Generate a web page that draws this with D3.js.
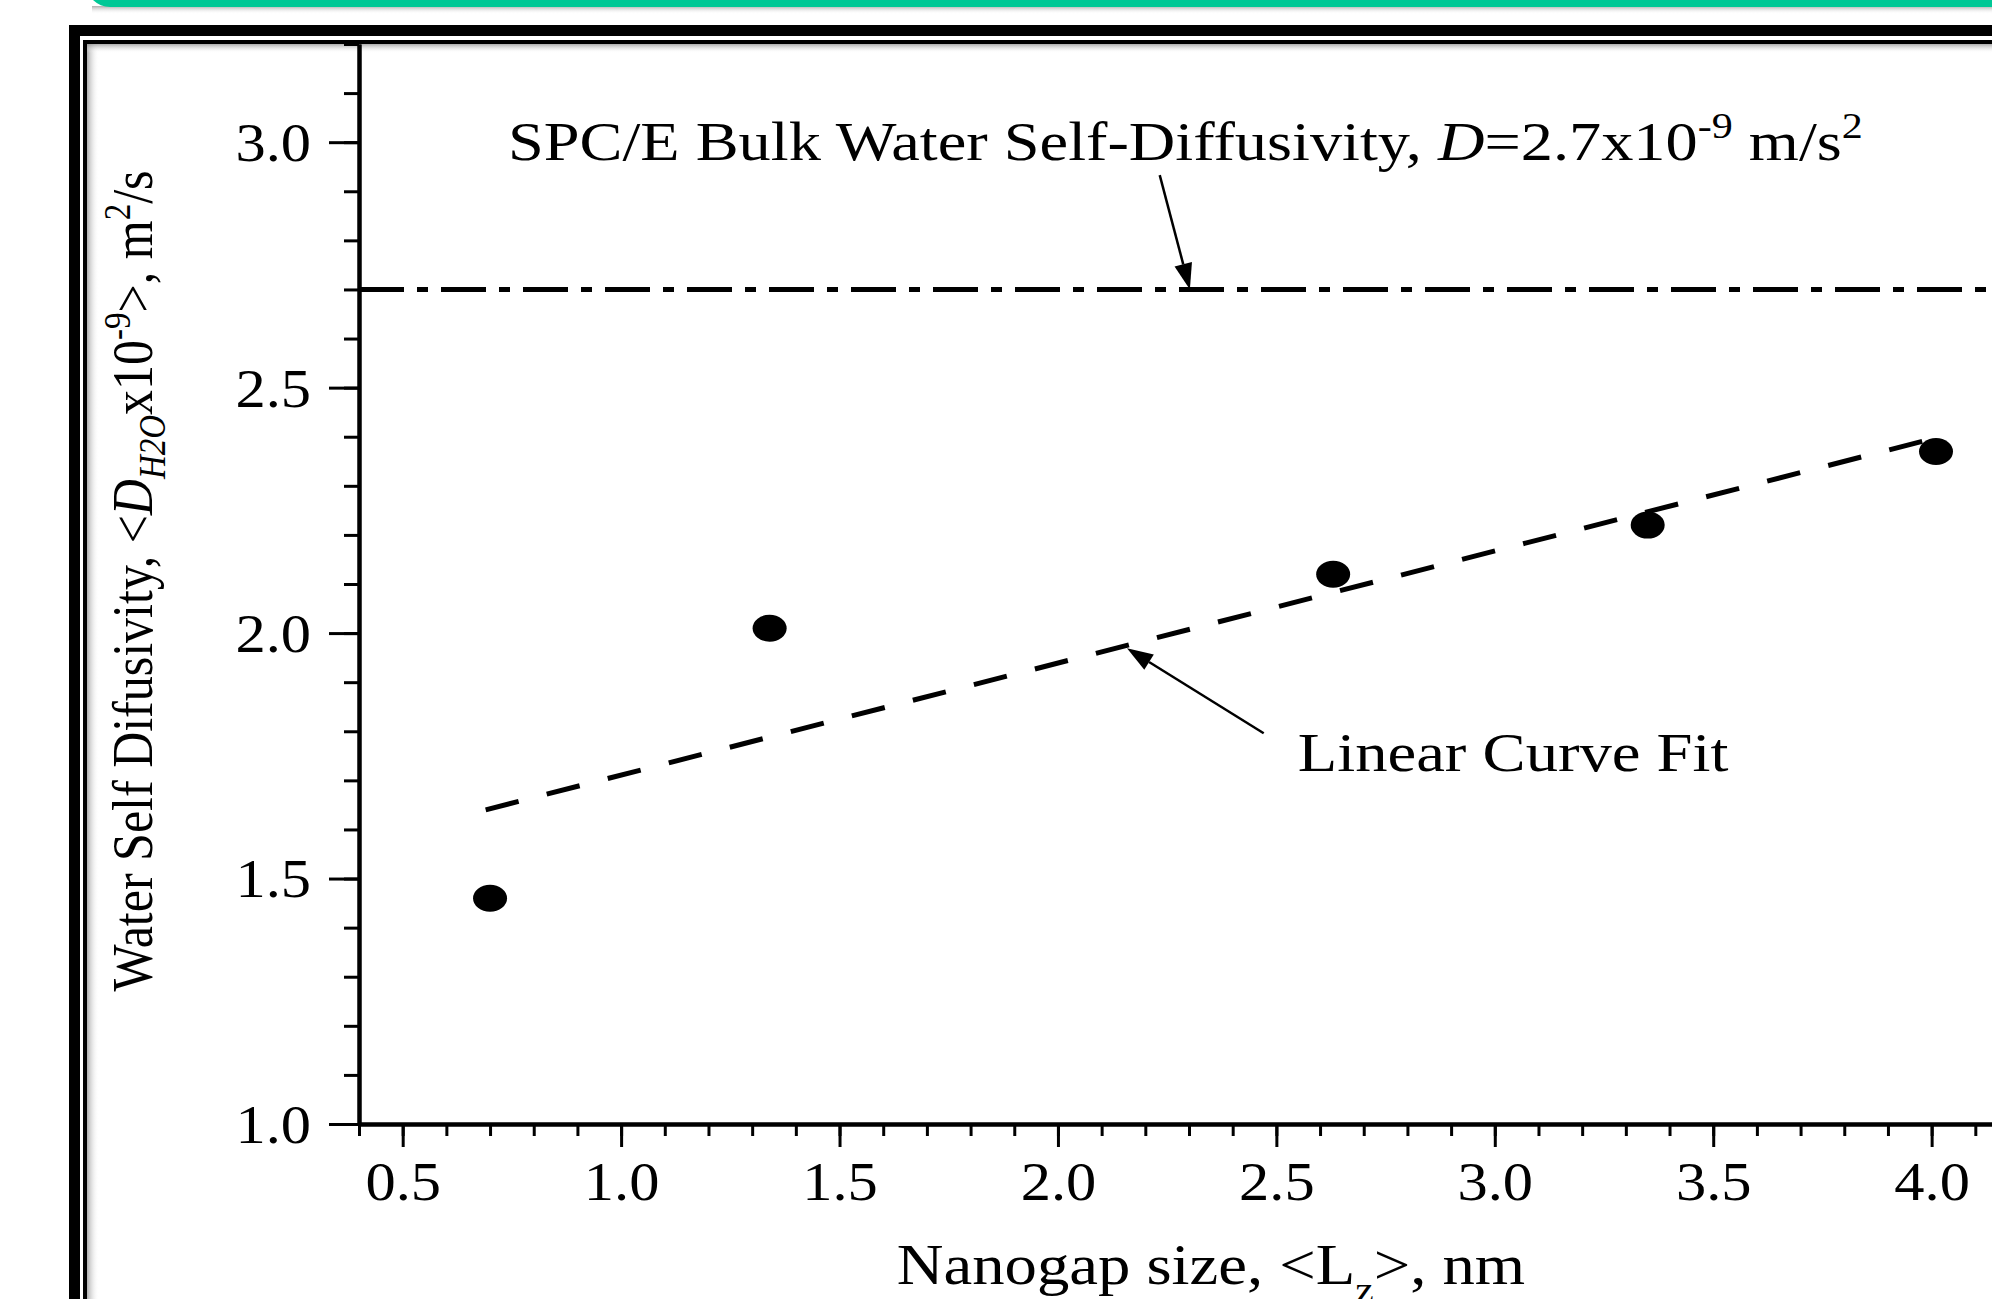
<!DOCTYPE html>
<meta charset="utf-8">
<script src="https://cdn.jsdelivr.net/npm/d3@7"></script>
<style>
  body { margin: 0; background: #fff; overflow: hidden; }
  text { font-family: "Liberation Serif", "Times New Roman", serif; fill: #000; }
</style>
<svg></svg>
<script>
    var W = 1992, H = 1299;
    var svg = d3.select('svg').attr('width', W).attr('height', H);

    // data
    var xTickValues = [0.5, 1.0, 1.5, 2.0, 2.5, 3.0, 3.5, 4.0];
    var yTickValues = [1.0, 1.5, 2.0, 2.5, 3.0];
    var gapSize = [0.70, 1.34, 2.63, 3.35, 4.01];
    var diffusivity = [1.46, 2.01, 2.12, 2.22, 2.37];
    var fitX = [0.69, 4.02];
    var fitY = [1.64, 2.40];
    var bulkD = 2.7;

    var stretch = 1.12;   // the source picture is widened a little

    var x = d3.scaleLinear().domain([0.4, 4.2]).range([359, 2019]);
    var y = d3.scaleLinear().domain([1.0, 3.2]).range([1124, 44]);

    // slide decoration: green bar, shadows, double frame
    var defs = svg.append('defs');
    var gv = defs.append('linearGradient').attr('id', 'shadeV').attr('x1', 0).attr('y1', 0).attr('x2', 0).attr('y2', 1);
    gv.append('stop').attr('offset', 0).attr('stop-color', '#8a8a8a').attr('stop-opacity', 0.7);
    gv.append('stop').attr('offset', 1).attr('stop-color', '#fff').attr('stop-opacity', 0);
    var gh = defs.append('linearGradient').attr('id', 'shadeH').attr('x1', 0).attr('y1', 0).attr('x2', 1).attr('y2', 0);
    gh.append('stop').attr('offset', 0).attr('stop-color', '#8a8a8a').attr('stop-opacity', 0.7);
    gh.append('stop').attr('offset', 1).attr('stop-color', '#fff').attr('stop-opacity', 0);

    svg.append('rect').attr('x', 92).attr('y', 6).attr('width', 2000).attr('height', 8).attr('fill', 'url(#shadeV)');
    svg.append('rect').attr('x', 86).attr('y', -40).attr('width', 2000).attr('height', 47)
        .attr('rx', 24).attr('fill', '#00c896');

    svg.append('rect').attr('x', 69).attr('y', 25).attr('width', 3000).attr('height', 3000).attr('fill', '#000');
    svg.append('rect').attr('x', 80).attr('y', 36).attr('width', 3000).attr('height', 3000).attr('fill', '#fff');
    svg.append('rect').attr('x', 83).attr('y', 40).attr('width', 3000).attr('height', 3000).attr('fill', '#000');
    svg.append('rect').attr('x', 87).attr('y', 44).attr('width', 3000).attr('height', 3000).attr('fill', '#fff');
    svg.append('rect').attr('x', 87).attr('y', 44).attr('width', 12).attr('height', 3000).attr('fill', 'url(#shadeH)');
    svg.append('rect').attr('x', 87).attr('y', 44).attr('width', 3000).attr('height', 9).attr('fill', 'url(#shadeV)');

    // axes
    var xMinor = d3.axisBottom(x).tickValues(d3.range(4, 43).map(d => d / 10))
        .tickSize(12).tickSizeOuter(0).tickFormat('');
    var xMajor = d3.axisBottom(x).tickValues(xTickValues)
        .tickSize(23).tickSizeOuter(0).tickFormat(d3.format('.1f'));
    var yMinor = d3.axisLeft(y).tickValues(d3.range(10, 33).map(d => d / 10))
        .tickSize(15).tickSizeOuter(0).tickFormat('');
    var yMajor = d3.axisLeft(y).tickValues(yTickValues)
        .tickSize(30).tickSizeOuter(0).tickFormat(d3.format('.1f'));

    function styleAxis(g) {
        g.select('.domain').attr('stroke', '#000').attr('stroke-width', 4);
        g.selectAll('.tick line').attr('stroke', '#000').attr('stroke-width', 3);
        g.selectAll('text').style('font-size', '54px').attr('fill', '#000');
    }

    svg.append('g').attr('transform', 'translate(0,' + y(1.0) + ')').call(xMinor).call(styleAxis);
    svg.append('g').attr('transform', 'translate(0,' + y(1.0) + ')').call(xMajor).call(styleAxis)
        .selectAll('text').attr('y', 0).attr('dy', 0)
        .attr('transform', 'translate(0,76) scale(' + stretch + ',1)');
    svg.append('g').attr('transform', 'translate(' + x(0.4) + ',0)').call(yMinor).call(styleAxis);
    svg.append('g').attr('transform', 'translate(' + x(0.4) + ',0)').call(yMajor).call(styleAxis)
        .selectAll('text').attr('x', 0).attr('dy', '0.34em')
        .attr('transform', 'translate(-48,0) scale(' + stretch + ',1)');

    // bulk water line
    svg.append('line')
        .attr('x1', x(0.4)).attr('x2', x(4.2))
        .attr('y1', y(bulkD)).attr('y2', y(bulkD))
        .attr('stroke', '#000').attr('stroke-width', 5)
        .attr('stroke-dasharray', '45,13,11,13');

    // linear fit
    svg.append('path')
        .datum(d3.zip(fitX, fitY))
        .attr('d', d3.line().x(d => x(d[0])).y(d => y(d[1])))
        .attr('fill', 'none').attr('stroke', '#000').attr('stroke-width', 5)
        .attr('stroke-dasharray', '34,29');

    // points
    svg.selectAll('ellipse.pt').data(d3.zip(gapSize, diffusivity)).enter().append('ellipse')
        .attr('class', 'pt')
        .attr('cx', d => x(d[0])).attr('cy', d => y(d[1]))
        .attr('rx', 17).attr('ry', 13.5).attr('fill', '#000');

    // annotations
    function arrow(x0, y0, x1, y1) {
        var px0 = x(x0), py0 = y(y0), px1 = x(x1), py1 = y(y1);
        var a = Math.atan2(py1 - py0, px1 - px0), L = 26, w = 9;
        var bx = px1 - L * Math.cos(a), by = py1 - L * Math.sin(a);
        svg.append('line').attr('x1', px0).attr('y1', py0).attr('x2', bx).attr('y2', by)
            .attr('stroke', '#000').attr('stroke-width', 2.5);
        svg.append('path')
            .attr('d', 'M' + px1 + ',' + py1 +
                'L' + (bx + w * Math.sin(a)) + ',' + (by - w * Math.cos(a)) +
                'L' + (bx - w * Math.sin(a)) + ',' + (by + w * Math.cos(a)) + 'Z')
            .attr('fill', '#000');
    }
    arrow(2.233, 2.933, 2.302, bulkD);
    arrow(2.471, 1.796, 2.158, 1.969);

    var t1 = svg.append('text')
        .attr('transform', 'translate(' + x(0.741) + ',' + y(2.963) + ') scale(1.17,1)')
        .style('font-size', '55px');
    t1.append('tspan').text('SPC/E Bulk Water Self-Diffusivity, ');
    t1.append('tspan').style('font-style', 'italic').text('D');
    t1.append('tspan').text('=2.7x10');
    t1.append('tspan').attr('dy', -22).style('font-size', '36px').text('-9');
    t1.append('tspan').attr('dy', 22).text(' m/s');
    t1.append('tspan').attr('dy', -22).style('font-size', '36px').text('2');

    svg.append('text')
        .attr('transform', 'translate(' + x(2.549) + ',' + y(1.719) + ') scale(1.175,1)')
        .style('font-size', '55px')
        .text('Linear Curve Fit');

    // axis titles
    var xt = svg.append('text')
        .attr('transform', 'translate(1211,1284) scale(1.155,1)')
        .attr('text-anchor', 'middle').style('font-size', '56px');
    xt.append('tspan').text('Nanogap size, <L');
    xt.append('tspan').attr('dy', 18).style('font-size', '36px').text('z');
    xt.append('tspan').attr('dy', -18).text('>, nm');

    var yt = svg.append('text')
        .attr('transform', 'translate(152,581) scale(' + stretch + ',1) rotate(-90)')
        .attr('text-anchor', 'middle').style('font-size', '50px');
    yt.append('tspan').text('Water Self Difusivity, <');
    yt.append('tspan').style('font-style', 'italic').text('D');
    yt.append('tspan').attr('dy', 12).style('font-style', 'italic').style('font-size', '33px').text('H2O');
    yt.append('tspan').attr('dy', -12).text('x10');
    yt.append('tspan').attr('dy', -20).style('font-size', '33px').text('-9');
    yt.append('tspan').attr('dy', 20).text('>, m');
    yt.append('tspan').attr('dy', -20).style('font-size', '33px').text('2');
    yt.append('tspan').attr('dy', 20).text('/s');
</script>
